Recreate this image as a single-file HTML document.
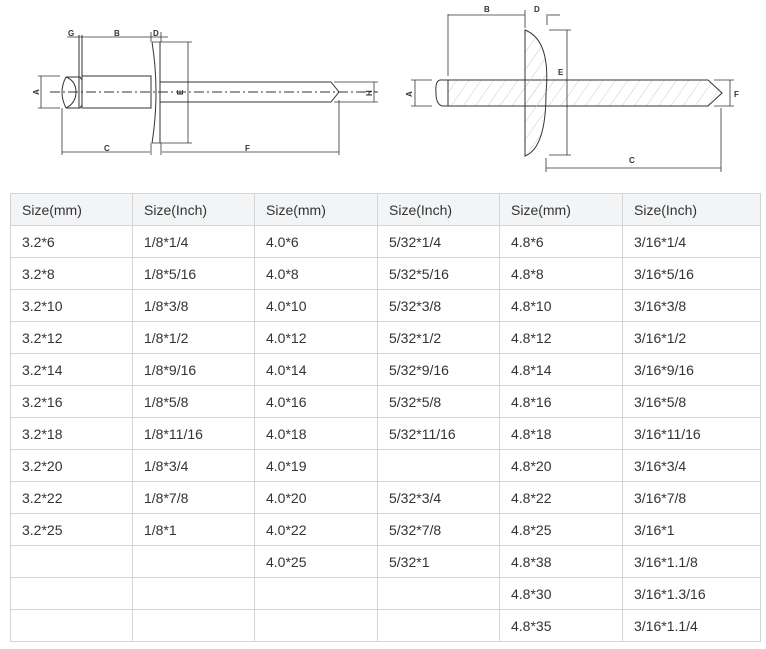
<!DOCTYPE html>
<html><head><meta charset="utf-8"><style>
body{margin:0;width:766px;height:649px;background:#fff;position:relative;font-family:"Liberation Sans",sans-serif;overflow:hidden}
svg{position:absolute;left:0;top:0}
table{position:absolute;left:10px;top:193px;border-collapse:collapse;table-layout:fixed;width:750px}
td{border:1px solid #d4d4d4;height:31px;padding:0 0 0 11px;font-size:14px;color:#333;vertical-align:middle;white-space:nowrap}
tr:first-child td{background:#f3f4f6}
</style></head><body>
<svg width="766" height="190" viewBox="0 0 766 190" fill="none" stroke="#333" stroke-width="1">
<!-- left rivet -->
<path d="M66 77 Q58 92 66 108" />
<path d="M66 77 L80 77 L82 80 M66 108 L80 108 L82 105"/>
<path d="M66 77 Q76 81 76 92 Q76 103 66 108"/>
<line x1="79" y1="35" x2="79" y2="108"/><line x1="82" y1="35" x2="82" y2="108"/>
<rect x="82" y="76" width="69" height="32"/>
<path d="M152 42 Q160 92 152 143 M160 42 L160 143"/>
<path d="M160 82 L331 82 L339 92 L331 102 L160 102"/>
<line x1="50" y1="92" x2="378" y2="92" stroke-dasharray="10 3 2 3"/>
<g stroke-width="0.8">
<line x1="67" y1="37" x2="168" y2="37"/>
<line x1="151" y1="32" x2="151" y2="42"/><line x1="161" y1="32" x2="161" y2="42"/>
<line x1="38" y1="76" x2="60" y2="76"/><line x1="38" y1="108" x2="60" y2="108"/><line x1="41" y1="76" x2="41" y2="108"/>
<line x1="152" y1="42" x2="192" y2="42"/><line x1="152" y1="143" x2="192" y2="143"/><line x1="188" y1="42" x2="188" y2="143"/>
<line x1="62" y1="108" x2="62" y2="155"/><line x1="151" y1="143" x2="151" y2="155"/><line x1="161" y1="143" x2="161" y2="155"/><line x1="339" y1="100" x2="339" y2="155"/>
<line x1="62" y1="152" x2="150" y2="152"/><line x1="162" y1="152" x2="339" y2="152"/>
<line x1="334" y1="82" x2="378" y2="82"/><line x1="334" y1="102" x2="378" y2="102"/><line x1="374" y1="82" x2="374" y2="102"/>
</g>
<g fill="#333" stroke="none" font-size="8" font-weight="bold" font-family="Liberation Sans,sans-serif">
<text x="68" y="36">G</text><text x="114" y="36">B</text><text x="153" y="36">D</text>
<text x="104" y="151">C</text><text x="245" y="151">F</text>
<text transform="translate(39,95) rotate(-90)">A</text>
<text transform="translate(183,95) rotate(-90)">E</text>
<text transform="translate(372,96) rotate(-90)">H</text>
</g>
<!-- right rivet -->
<defs><pattern id="h" width="10" height="10" patternUnits="userSpaceOnUse" patternTransform="rotate(35)"><line x1="0" y1="0" x2="0" y2="10" stroke="#ccc" stroke-width="1"/></pattern></defs>
<path d="M448 80 L708 80 L722 93 L708 106 L448 106 Z" fill="url(#h)"/>
<path d="M448 80 L440 80 Q435 81 436 93 Q436 104 442 106 L448 106" />
<line x1="448" y1="80" x2="448" y2="106"/>
<path d="M525 30 Q551 40 546 93 Q546 148 525 156 Z" fill="url(#h)"/>
<g stroke-width="0.8">
<line x1="448" y1="14" x2="448" y2="76"/><line x1="525" y1="10" x2="525" y2="28"/><line x1="448" y1="15" x2="525" y2="15"/>
<line x1="547" y1="14" x2="547" y2="25"/><line x1="548" y1="15" x2="560" y2="15"/>
<line x1="549" y1="30" x2="571" y2="30"/><line x1="549" y1="155" x2="571" y2="155"/><line x1="567" y1="30" x2="567" y2="155"/>
<line x1="411" y1="80" x2="432" y2="80"/><line x1="411" y1="106" x2="432" y2="106"/><line x1="415" y1="80" x2="415" y2="106"/>
<line x1="714" y1="80" x2="734" y2="80"/><line x1="714" y1="106" x2="734" y2="106"/><line x1="730" y1="80" x2="730" y2="106"/>
<line x1="546" y1="158" x2="546" y2="172"/><line x1="721" y1="108" x2="721" y2="172"/><line x1="546" y1="168" x2="721" y2="168"/>
</g>
<g fill="#333" stroke="none" font-size="8" font-weight="bold" font-family="Liberation Sans,sans-serif">
<text x="484" y="12">B</text><text x="534" y="12">D</text><text x="558" y="75">E</text>
<text x="629" y="163">C</text><text x="734" y="97">F</text>
<text transform="translate(412,97) rotate(-90)">A</text>
</g>
</svg>
<table>
<colgroup><col style="width:122px"><col style="width:122px"><col style="width:123px"><col style="width:122px"><col style="width:123px"><col style="width:138px"></colgroup>
<tr><td>Size(mm)</td><td>Size(Inch)</td><td>Size(mm)</td><td>Size(Inch)</td><td>Size(mm)</td><td>Size(Inch)</td></tr>
<tr><td>3.2*6</td><td>1/8*1/4</td><td>4.0*6</td><td>5/32*1/4</td><td>4.8*6</td><td>3/16*1/4</td></tr>
<tr><td>3.2*8</td><td>1/8*5/16</td><td>4.0*8</td><td>5/32*5/16</td><td>4.8*8</td><td>3/16*5/16</td></tr>
<tr><td>3.2*10</td><td>1/8*3/8</td><td>4.0*10</td><td>5/32*3/8</td><td>4.8*10</td><td>3/16*3/8</td></tr>
<tr><td>3.2*12</td><td>1/8*1/2</td><td>4.0*12</td><td>5/32*1/2</td><td>4.8*12</td><td>3/16*1/2</td></tr>
<tr><td>3.2*14</td><td>1/8*9/16</td><td>4.0*14</td><td>5/32*9/16</td><td>4.8*14</td><td>3/16*9/16</td></tr>
<tr><td>3.2*16</td><td>1/8*5/8</td><td>4.0*16</td><td>5/32*5/8</td><td>4.8*16</td><td>3/16*5/8</td></tr>
<tr><td>3.2*18</td><td>1/8*11/16</td><td>4.0*18</td><td>5/32*11/16</td><td>4.8*18</td><td>3/16*11/16</td></tr>
<tr><td>3.2*20</td><td>1/8*3/4</td><td>4.0*19</td><td></td><td>4.8*20</td><td>3/16*3/4</td></tr>
<tr><td>3.2*22</td><td>1/8*7/8</td><td>4.0*20</td><td>5/32*3/4</td><td>4.8*22</td><td>3/16*7/8</td></tr>
<tr><td>3.2*25</td><td>1/8*1</td><td>4.0*22</td><td>5/32*7/8</td><td>4.8*25</td><td>3/16*1</td></tr>
<tr><td></td><td></td><td>4.0*25</td><td>5/32*1</td><td>4.8*38</td><td>3/16*1.1/8</td></tr>
<tr><td></td><td></td><td></td><td></td><td>4.8*30</td><td>3/16*1.3/16</td></tr>
<tr><td></td><td></td><td></td><td></td><td>4.8*35</td><td>3/16*1.1/4</td></tr>
</table>
</body></html>
